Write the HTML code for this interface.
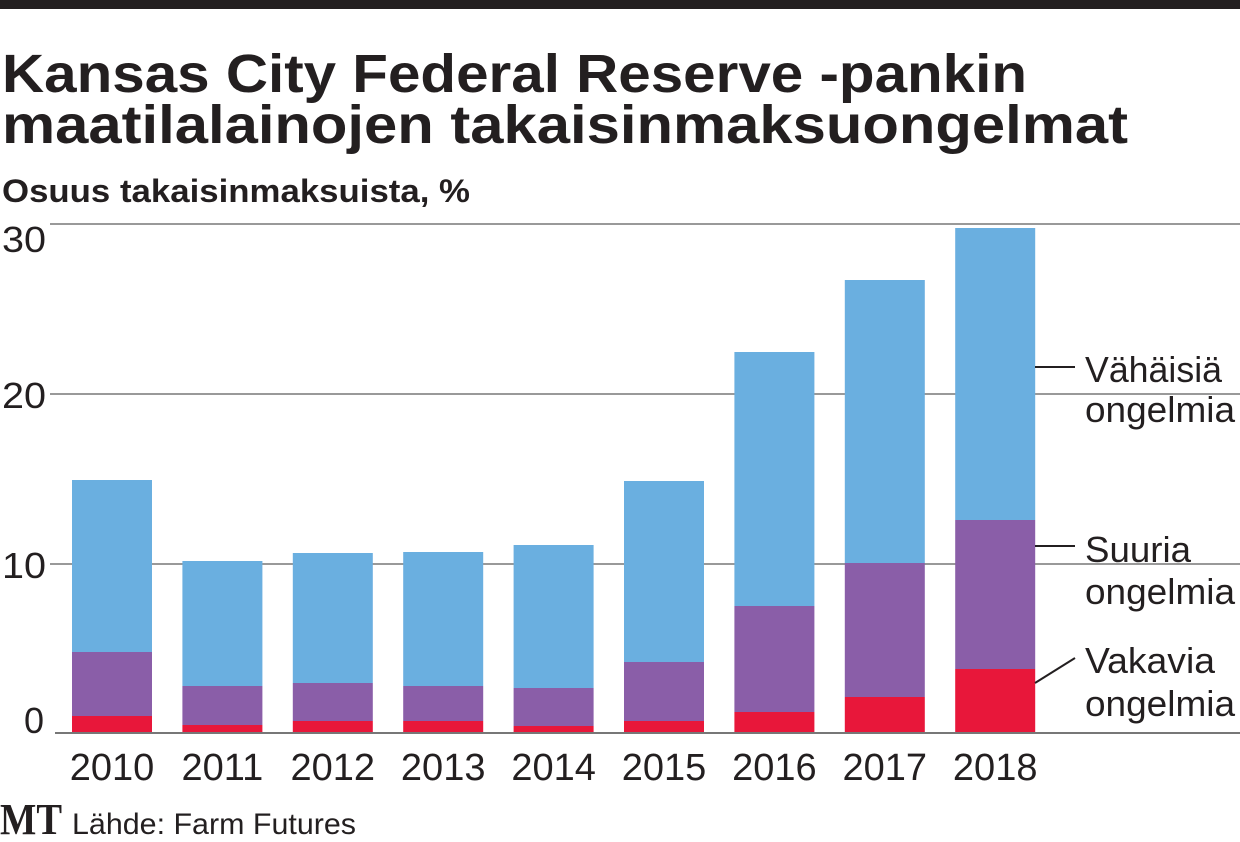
<!DOCTYPE html><html><head><meta charset="utf-8"><style>body{margin:0;background:#fff}svg{display:block}</style></head><body>
<svg width="1240" height="842" viewBox="0 0 1240 842" xmlns="http://www.w3.org/2000/svg" font-family="Liberation Sans, sans-serif">
<rect x="0" y="0" width="1240" height="9" fill="#231f20"/>
<text x="2" y="92" font-size="54" font-weight="bold" fill="#231f20" textLength="1025" lengthAdjust="spacingAndGlyphs">Kansas City Federal Reserve -pankin</text>
<text x="2" y="143" font-size="54" font-weight="bold" fill="#231f20" textLength="1126" lengthAdjust="spacingAndGlyphs">maatilalainojen takaisinmaksuongelmat</text>
<text x="2" y="202" font-size="32" font-weight="bold" fill="#231f20" textLength="468" lengthAdjust="spacingAndGlyphs">Osuus takaisinmaksuista, %</text>
<g stroke="#999" stroke-width="2">
<line x1="50" y1="224" x2="1240" y2="224"/><line x1="50" y1="394" x2="1240" y2="394"/><line x1="50" y1="564" x2="1240" y2="564"/>
</g>
<g font-size="36" fill="#231f20">
<text x="2" y="252" textLength="44" lengthAdjust="spacingAndGlyphs">30</text>
<text x="2" y="408" textLength="44" lengthAdjust="spacingAndGlyphs">20</text>
<text x="2" y="578" textLength="44" lengthAdjust="spacingAndGlyphs">10</text>
<text x="24" y="733">0</text>
</g>
<g id="bars"></g>
<line x1="55" y1="733" x2="1240" y2="733" stroke="#777" stroke-width="2"/>
<g font-size="38" fill="#231f20" text-anchor="middle" id="yrs"></g>
<g stroke="#231f20" stroke-width="2">
<line x1="1035" y1="367" x2="1075" y2="367"/><line x1="1035" y1="546" x2="1075" y2="546"/><line x1="1035" y1="683" x2="1075" y2="658"/>
</g>
<g font-size="36" fill="#231f20">
<text x="1085" y="382" textLength="137" lengthAdjust="spacingAndGlyphs">Vähäisiä</text>
<text x="1085" y="422" textLength="150" lengthAdjust="spacingAndGlyphs">ongelmia</text>
<text x="1085" y="562" textLength="106" lengthAdjust="spacingAndGlyphs">Suuria</text>
<text x="1085" y="604" textLength="150" lengthAdjust="spacingAndGlyphs">ongelmia</text>
<text x="1085" y="673" textLength="130" lengthAdjust="spacingAndGlyphs">Vakavia</text>
<text x="1085" y="716" textLength="150" lengthAdjust="spacingAndGlyphs">ongelmia</text>
</g>
<text x="0" y="834" font-family="Liberation Serif, serif" font-weight="bold" font-size="44" fill="#231f20" textLength="62" lengthAdjust="spacingAndGlyphs">MT</text>
<text x="72" y="834" font-size="30" fill="#231f20" textLength="284" lengthAdjust="spacingAndGlyphs">Lähde: Farm Futures</text>
<script>
var d=[[480,652,716],[561,686,725],[553,683,721],[552,686,721],[545,688,726],[481,662,721],[352,606,712],[280,563,697],[228,520,669]];
var ns="http://www.w3.org/2000/svg",g=document.getElementById("bars"),y=document.getElementById("yrs");
function r(x,y1,y2,c){var e=document.createElementNS(ns,"rect");e.setAttribute("x",x);e.setAttribute("y",y1);e.setAttribute("width",80);e.setAttribute("height",y2-y1);e.setAttribute("fill",c);g.appendChild(e);}
d.forEach(function(v,i){var x=72+i*110.4;r(x,v[0],v[1],"#6aafe0");r(x,v[1],v[2],"#8a5ea8");r(x,v[2],733,"#e8173a");
var t=document.createElementNS(ns,"text");t.setAttribute("x",x+40);t.setAttribute("y",780);t.textContent=2010+i;y.appendChild(t);});
</script>
</svg></body></html>
